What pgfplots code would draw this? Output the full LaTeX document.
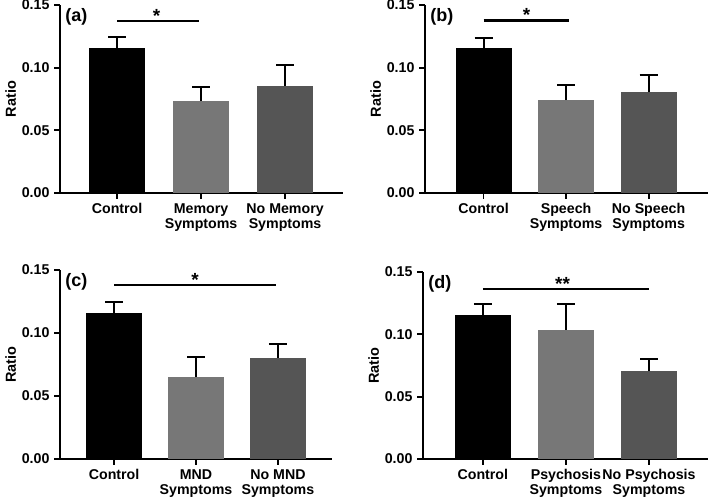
\documentclass[border=0pt]{standalone}
\usepackage{fontspec}
\setmainfont{Liberation Sans}
\usepackage{pgfplots}
\pgfplotsset{compat=1.18}
\definecolor{gA}{HTML}{777777}
\definecolor{gB}{HTML}{555555}
\pgfplotsset{
 panel/.style={
  scale only axis, width=283pt, height=188pt, anchor=south west,
  axis lines*=left, axis line style={line width=1.8pt, black},
  clip=false,
  ymin=0, ymax=0.15, ytick={0,0.05,0.1,0.15},
  /pgf/number format/assume math mode=true,
  yticklabel style={/pgf/number format/fixed, /pgf/number format/fixed zerofill, /pgf/number format/precision=2, xshift=-1pt},
  xtick={0,1,2},
  tick style={line width=1.8pt, black}, major tick length=6pt, tick align=outside,
  ticklabel style={font=\fontsize{14.2}{15}\selectfont\bfseries},
  xticklabel style={align=center, anchor=north, yshift=-1pt},
  ylabel={Ratio}, ylabel style={font=\fontsize{14.5}{15}\selectfont\bfseries, yshift=-1pt},
  ybar, bar width=56pt, bar shift=0pt,
  error bars/y dir=plus, error bars/y explicit,
  error bars/error bar style={line width=2pt, black},
  error bars/error mark options={rotate=90, mark size=9pt, line width=2pt, black},
 },
}
\tikzset{
 sig/.style={line width=2.3pt, black},
 star/.style={anchor=base, yshift=-1pt, font=\fontsize{19}{19}\selectfont\bfseries},
 plab/.style={anchor=north west, inner sep=1pt, font=\fontsize{18}{18}\selectfont\bfseries},
}
\begin{document}
\begin{tikzpicture}[x=1pt,y=1pt]
\useasboundingbox (0,0) rectangle (709,500);
% (a)
\begin{axis}[panel, at={(60pt,307pt)}, xmin=-0.68, xmax=2.69,
  xticklabels={Control, Memory\\Symptoms, No Memory\\Symptoms}]
\addplot[fill=black, draw=none] coordinates {(0,0.1159) +- (0,0.0088)};
\addplot[fill=gA, draw=none] coordinates {(1,0.0737) +- (0,0.0106)};
\addplot[fill=gB, draw=none] coordinates {(2,0.0856) +- (0,0.0165)};
\draw[sig] (axis cs:0,0.1372) -- (axis cs:0.98,0.1372);
\node[star] at (axis cs:0.47,0.1372) {*};
\node[plab] at (rel axis cs:0.015,0.99) {(a)};
\end{axis}
% (b)
\begin{axis}[panel, at={(425pt,307pt)}, xmin=-0.71, xmax=2.72,
  xticklabels={Control, Speech\\Symptoms, No Speech\\Symptoms}]
\addplot[fill=black, draw=none] coordinates {(0,0.1155) +- (0,0.0085)};
\addplot[fill=gA, draw=none] coordinates {(1,0.0740) +- (0,0.0124)};
\addplot[fill=gB, draw=none] coordinates {(2,0.0804) +- (0,0.0134)};
\draw[sig] (axis cs:0,0.1377) -- (axis cs:1.04,0.1377);
\node[star] at (axis cs:0.52,0.1377) {*};
\node[plab] at (rel axis cs:0.015,0.99) {(b)};
\end{axis}
% (c)
\begin{axis}[panel, at={(60pt,41pt)}, width=272pt, height=189pt, xmin=-0.66, xmax=2.66,
  xticklabels={Control, MND\\Symptoms, No MND\\Symptoms}]
\addplot[fill=black, draw=none] coordinates {(0,0.1162) +- (0,0.0084)};
\addplot[fill=gA, draw=none] coordinates {(1,0.0650) +- (0,0.0161)};
\addplot[fill=gB, draw=none] coordinates {(2,0.0803) +- (0,0.0106)};
\draw[sig] (axis cs:0,0.1379) -- (axis cs:1.98,0.1379);
\node[star] at (axis cs:0.99,0.1379) {*};
\node[plab] at (rel axis cs:0.015,0.99) {(c)};
\end{axis}
% (d)
\begin{axis}[panel, at={(423pt,41pt)}, width=285pt, height=187pt, xmin=-0.72, xmax=2.71,
  xticklabels={Control, Psychosis\\Symptoms, No Psychosis\\Symptoms}]
\addplot[fill=black, draw=none] coordinates {(0,0.1155) +- (0,0.0087)};
\addplot[fill=gA, draw=none] coordinates {(1,0.1035) +- (0,0.0210)};
\addplot[fill=gB, draw=none] coordinates {(2,0.0702) +- (0,0.0101)};
\draw[sig] (axis cs:0,0.1362) -- (axis cs:2.0,0.1362);
\node[star] at (axis cs:0.96,0.1362) {**};
\node[plab] at (rel axis cs:0.015,0.99) {(d)};
\end{axis}
\end{tikzpicture}
\end{document}
